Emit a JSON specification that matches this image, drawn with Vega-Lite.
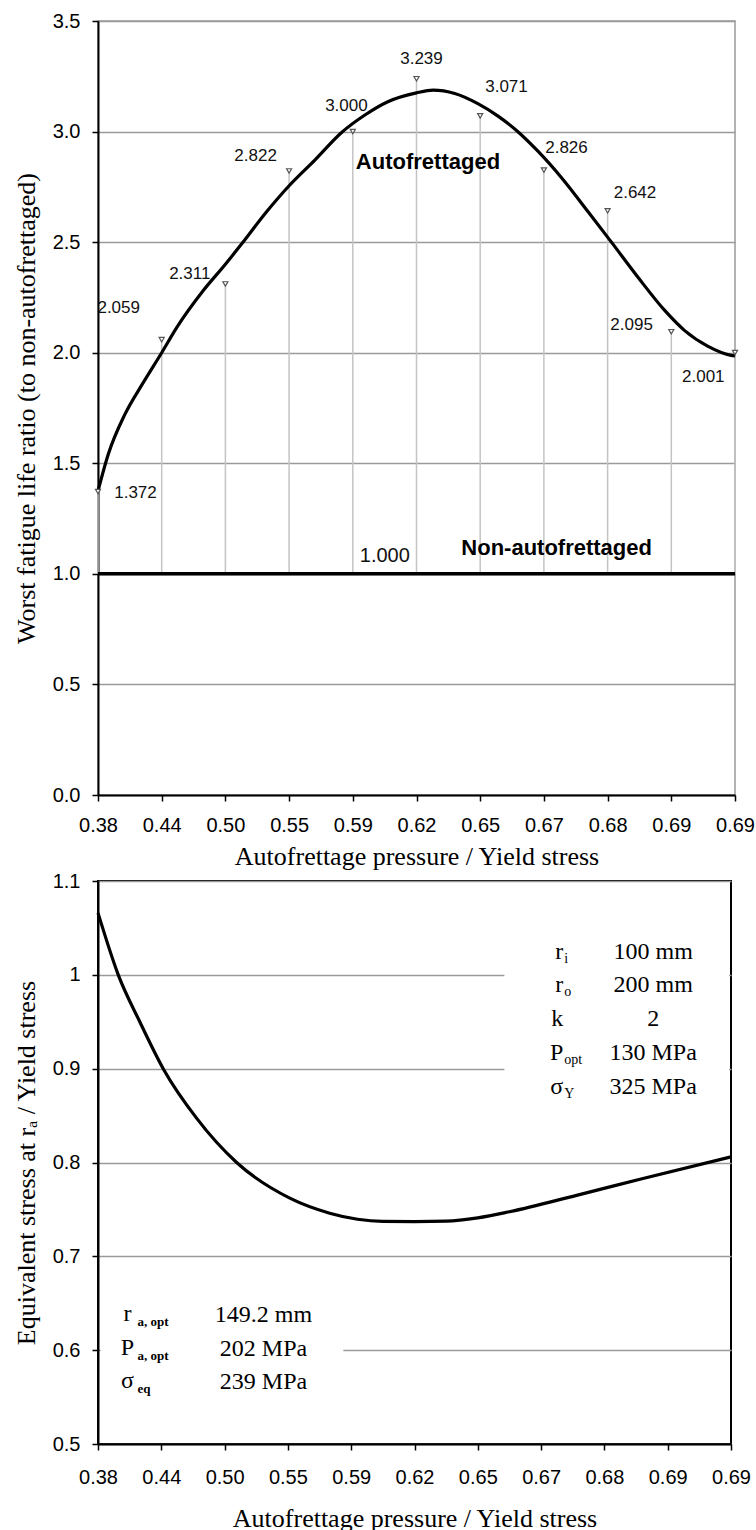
{
  "$schema": "https://vega.github.io/schema/vega-lite/v6.json",
  "background": "white",
  "padding": {"left": 12, "top": 10, "right": 0, "bottom": 0},
  "spacing": 0,
  "config": {
    "font": "Liberation Sans",
    "axis": {
      "domainColor": "black",
      "domainWidth": 2,
      "tickColor": "black",
      "tickWidth": 1.5,
      "tickSize": 6,
      "labelFont": "Liberation Sans",
      "labelFontSize": 20,
      "labelColor": "black",
      "labelFlush": false,
      "labelOverlap": false,
      "titleFont": "Liberation Serif",
      "titleFontSize": 26,
      "titleFontWeight": "normal",
      "titleColor": "black",
      "gridColor": "#9a9a9a",
      "gridWidth": 1.5
    }
  },
  "datasets": {
    "fatigue": [
      {"step": 0, "pressure": 0.38, "ratio": 1.372},
      {"step": 1, "pressure": 0.44, "ratio": 2.059},
      {"step": 2, "pressure": 0.50, "ratio": 2.311},
      {"step": 3, "pressure": 0.55, "ratio": 2.822},
      {"step": 4, "pressure": 0.59, "ratio": 3.000},
      {"step": 5, "pressure": 0.62, "ratio": 3.239},
      {"step": 6, "pressure": 0.65, "ratio": 3.071},
      {"step": 7, "pressure": 0.67, "ratio": 2.826},
      {"step": 8, "pressure": 0.68, "ratio": 2.642},
      {"step": 9, "pressure": 0.69, "ratio": 2.095},
      {"step": 10, "pressure": 0.69, "ratio": 2.001}
    ],
    "plain": [
      {"step": 0, "ratio": 1.0}, {"step": 1, "ratio": 1.0}, {"step": 2, "ratio": 1.0},
      {"step": 3, "ratio": 1.0}, {"step": 4, "ratio": 1.0}, {"step": 5, "ratio": 1.0},
      {"step": 6, "ratio": 1.0}, {"step": 7, "ratio": 1.0}, {"step": 8, "ratio": 1.0},
      {"step": 9, "ratio": 1.0}, {"step": 10, "ratio": 1.0}
    ],
    "trend": [
      {"step": 0, "ratio": 1.375}, {"step": 0.16, "ratio": 1.54}, {"step": 0.42, "ratio": 1.72},
      {"step": 0.7, "ratio": 1.86}, {"step": 1.0, "ratio": 2.0}, {"step": 1.25, "ratio": 2.12},
      {"step": 1.65, "ratio": 2.28}, {"step": 2.0, "ratio": 2.4}, {"step": 2.25, "ratio": 2.49},
      {"step": 2.64, "ratio": 2.635}, {"step": 3.0, "ratio": 2.755}, {"step": 3.4, "ratio": 2.87},
      {"step": 3.82, "ratio": 2.995}, {"step": 4.19, "ratio": 3.075}, {"step": 4.55, "ratio": 3.135},
      {"step": 5.0, "ratio": 3.175}, {"step": 5.26, "ratio": 3.187}, {"step": 5.6, "ratio": 3.172},
      {"step": 5.97, "ratio": 3.125}, {"step": 6.28, "ratio": 3.07}, {"step": 6.57, "ratio": 3.005},
      {"step": 6.91, "ratio": 2.91}, {"step": 7.28, "ratio": 2.79}, {"step": 7.7, "ratio": 2.635},
      {"step": 8.06, "ratio": 2.5}, {"step": 8.48, "ratio": 2.34}, {"step": 8.9, "ratio": 2.19},
      {"step": 9.21, "ratio": 2.1}, {"step": 9.57, "ratio": 2.03}, {"step": 9.94, "ratio": 1.988},
      {"step": 10, "ratio": 1.985}
    ],
    "stress": [
      {"step": 0, "ratio": 1.066}, {"step": 0.32, "ratio": 1.0}, {"step": 0.66, "ratio": 0.95},
      {"step": 1.03, "ratio": 0.9}, {"step": 1.56, "ratio": 0.847}, {"step": 2.19, "ratio": 0.8},
      {"step": 3.03, "ratio": 0.762}, {"step": 3.66, "ratio": 0.746}, {"step": 4.1, "ratio": 0.7395},
      {"step": 4.5, "ratio": 0.7372}, {"step": 5.0, "ratio": 0.737}, {"step": 5.5, "ratio": 0.7375},
      {"step": 6.0, "ratio": 0.741}, {"step": 6.5, "ratio": 0.7475}, {"step": 7.56, "ratio": 0.765},
      {"step": 8.61, "ratio": 0.783}, {"step": 10, "ratio": 0.806}
    ]
  },
  "vconcat": [
    {
      "width": 637,
      "height": 774,
      "view": {"stroke": "#9a9a9a", "strokeWidth": 1.5},
      "layer": [
        {
          "data": {"name": "fatigue"},
          "mark": {"type": "rule", "color": "#c4c4c4", "strokeWidth": 1.5},
          "encoding": {
            "x": {
              "field": "step",
              "type": "quantitative",
              "scale": {"domain": [0, 10], "nice": false, "zero": false},
              "axis": {
                "values": [0, 1, 2, 3, 4, 5, 6, 7, 8, 9, 10],
                "labelExpr": "['0.38','0.44','0.50','0.55','0.59','0.62','0.65','0.67','0.68','0.69','0.69'][datum.value]",
                "grid": false,
                "labelPadding": 14,
                "titlePadding": 8,
                "title": "Autofrettage pressure / Yield stress"
              }
            },
            "y": {
              "field": "ratio",
              "type": "quantitative",
              "scale": {"domain": [0, 3.5], "nice": false},
              "axis": {
                "values": [0, 0.5, 1, 1.5, 2, 2.5, 3, 3.5],
                "format": ".1f",
                "grid": true,
                "labelPadding": 12,
                "titlePadding": 13,
                "title": "Worst fatigue life ratio (to non-autofrettaged)"
              }
            },
            "y2": {"datum": 1}
          }
        },
        {
          "data": {"name": "plain"},
          "mark": {"type": "line", "color": "black", "strokeWidth": 3.5},
          "encoding": {
            "x": {"field": "step", "type": "quantitative"},
            "y": {"field": "ratio", "type": "quantitative"}
          }
        },
        {
          "data": {"name": "trend"},
          "mark": {"type": "line", "color": "black", "strokeWidth": 3.2, "interpolate": "monotone"},
          "encoding": {
            "x": {"field": "step", "type": "quantitative"},
            "y": {"field": "ratio", "type": "quantitative"}
          }
        },
        {
          "data": {"name": "fatigue"},
          "mark": {"type": "point", "shape": "triangle-down", "filled": true, "fill": "white", "stroke": "#555555", "strokeWidth": 1.2, "size": 26, "opacity": 1},
          "encoding": {
            "x": {"field": "step", "type": "quantitative"},
            "y": {"field": "ratio", "type": "quantitative"}
          }
        },
        {
          "data": {"name": "fatigue"},
          "mark": {
            "type": "text",
            "font": "Liberation Sans",
            "fontSize": 17,
            "color": "#111111",
            "align": "center",
            "baseline": "middle",
            "dx": {"expr": "[37.5,-43,-35.6,-33.5,-6.4,5,26.3,22.6,27.4,-39.7,-31.7][datum.step]"},
            "dy": {"expr": "[1.5,-31.6,-10,-15.4,-25.2,-19.9,-28.7,-22,-17.7,-6.9,24.7][datum.step]"}
          },
          "encoding": {
            "x": {"field": "step", "type": "quantitative"},
            "y": {"field": "ratio", "type": "quantitative"},
            "text": {"field": "ratio", "type": "quantitative", "format": ".3f"}
          }
        },
        {
          "data": {"name": "plain"},
          "transform": [{"filter": "datum.step == 4"}],
          "mark": {"type": "text", "font": "Liberation Sans", "fontSize": 20, "color": "#111111", "align": "center", "baseline": "middle", "dx": 32, "dy": -18},
          "encoding": {
            "x": {"field": "step", "type": "quantitative"},
            "y": {"field": "ratio", "type": "quantitative"},
            "text": {"field": "ratio", "type": "quantitative", "format": ".3f"}
          }
        },
        {
          "data": {"values": [{"note": "Autofrettaged"}]},
          "mark": {"type": "text", "font": "Liberation Sans", "fontSize": 22, "fontWeight": "bold", "color": "black", "align": "center", "baseline": "alphabetic"},
          "encoding": {
            "x": {"datum": 5.18, "type": "quantitative"},
            "y": {"datum": 2.833, "type": "quantitative"},
            "text": {"field": "note", "type": "nominal"}
          }
        },
        {
          "data": {"values": [{"note": "Non-autofrettaged"}]},
          "mark": {"type": "text", "font": "Liberation Sans", "fontSize": 22, "fontWeight": "bold", "color": "black", "align": "center", "baseline": "alphabetic"},
          "encoding": {
            "x": {"datum": 7.2, "type": "quantitative"},
            "y": {"datum": 1.087, "type": "quantitative"},
            "text": {"field": "note", "type": "nominal"}
          }
        }
      ]
    },
    {
      "width": 633,
      "height": 563,
      "view": {"stroke": "black", "strokeWidth": 2},
      "layer": [
        {
          "data": {"values": [{"box": "geometry"}]},
          "mark": {"type": "rect", "color": "white", "opacity": 1},
          "encoding": {
            "x": {"datum": 6.42, "type": "quantitative"},
            "x2": {"datum": 9.97},
            "y": {"datum": 0.845, "type": "quantitative"},
            "y2": {"datum": 1.06}
          }
        },
        {
          "data": {"values": [{"box": "optimum"}]},
          "mark": {"type": "rect", "color": "white", "opacity": 1},
          "encoding": {
            "x": {"datum": 0.04, "type": "quantitative"},
            "x2": {"datum": 3.875},
            "y": {"datum": 0.55, "type": "quantitative"},
            "y2": {"datum": 0.665}
          }
        },
        {
          "data": {"name": "stress"},
          "mark": {"type": "line", "color": "black", "strokeWidth": 3.2, "interpolate": "monotone"},
          "encoding": {
            "x": {
              "field": "step",
              "type": "quantitative",
              "scale": {"domain": [0, 10], "nice": false, "zero": false},
              "axis": {
                "values": [0, 1, 2, 3, 4, 5, 6, 7, 8, 9, 10],
                "labelExpr": "['0.38','0.44','0.50','0.55','0.59','0.62','0.65','0.67','0.68','0.69','0.69'][datum.value]",
                "grid": false,
                "labelPadding": 17,
                "titlePadding": 18,
                "title": "Autofrettage pressure / Yield stress"
              }
            },
            "y": {
              "field": "ratio",
              "type": "quantitative",
              "scale": {"domain": [0.5, 1.1], "nice": false, "zero": false},
              "axis": {
                "values": [0.5, 0.6, 0.7, 0.8, 0.9, 1.0, 1.1],
                "format": ".1~f",
                "grid": true,
                "labelPadding": 12,
                "titlePadding": 13,
                "title": "Equivalent stress at rₐ / Yield stress"
              }
            }
          }
        },
        {
          "data": {"values": [{"box": "geometry"}]},
          "mark": {"type": "text", "font": "Liberation Serif", "fontSize": 24, "color": "black", "align": "right", "baseline": "alphabetic", "lineHeight": 33.8, "text": ["r", "r", "k", "P", "σ"]},
          "encoding": {"x": {"datum": 7.35, "type": "quantitative"}, "y": {"datum": 1.0173, "type": "quantitative"}}
        },
        {
          "data": {"values": [{"box": "geometry"}]},
          "mark": {"type": "text", "font": "Liberation Serif", "fontSize": 14, "color": "black", "align": "left", "baseline": "alphabetic", "lineHeight": 33.8, "dx": 1, "dy": 4, "text": ["i", "o"]},
          "encoding": {"x": {"datum": 7.35, "type": "quantitative"}, "y": {"datum": 1.0173, "type": "quantitative"}}
        },
        {
          "data": {"values": [{"box": "geometry"}]},
          "mark": {"type": "text", "font": "Liberation Serif", "fontSize": 14, "color": "black", "align": "left", "baseline": "alphabetic", "lineHeight": 33.8, "dx": 1, "dy": 105.4, "text": ["opt", "Y"]},
          "encoding": {"x": {"datum": 7.35, "type": "quantitative"}, "y": {"datum": 1.0173, "type": "quantitative"}}
        },
        {
          "data": {"values": [{"box": "geometry"}]},
          "mark": {"type": "text", "font": "Liberation Serif", "fontSize": 24, "color": "black", "align": "center", "baseline": "alphabetic", "lineHeight": 33.8, "text": ["100 mm", "200 mm", "2", "130 MPa", "325 MPa"]},
          "encoding": {"x": {"datum": 8.77, "type": "quantitative"}, "y": {"datum": 1.0173, "type": "quantitative"}}
        },
        {
          "data": {"values": [{"box": "optimum"}]},
          "mark": {"type": "text", "font": "Liberation Serif", "fontSize": 24, "color": "black", "align": "center", "baseline": "alphabetic", "lineHeight": 33.5, "text": ["r", "P", "σ"]},
          "encoding": {"x": {"datum": 0.466, "type": "quantitative"}, "y": {"datum": 0.631, "type": "quantitative"}}
        },
        {
          "data": {"values": [{"box": "optimum"}]},
          "mark": {"type": "text", "font": "Liberation Serif", "fontSize": 13, "fontWeight": "bold", "color": "black", "align": "left", "baseline": "alphabetic", "lineHeight": 33.5, "dy": 5, "text": ["a, opt", "a, opt", "eq"]},
          "encoding": {"x": {"datum": 0.625, "type": "quantitative"}, "y": {"datum": 0.631, "type": "quantitative"}}
        },
        {
          "data": {"values": [{"box": "optimum"}]},
          "mark": {"type": "text", "font": "Liberation Serif", "fontSize": 24, "color": "black", "align": "center", "baseline": "alphabetic", "lineHeight": 33.5, "text": ["149.2 mm", "202 MPa", "239 MPa"]},
          "encoding": {"x": {"datum": 2.615, "type": "quantitative"}, "y": {"datum": 0.63, "type": "quantitative"}}
        }
      ]
    }
  ]
}
